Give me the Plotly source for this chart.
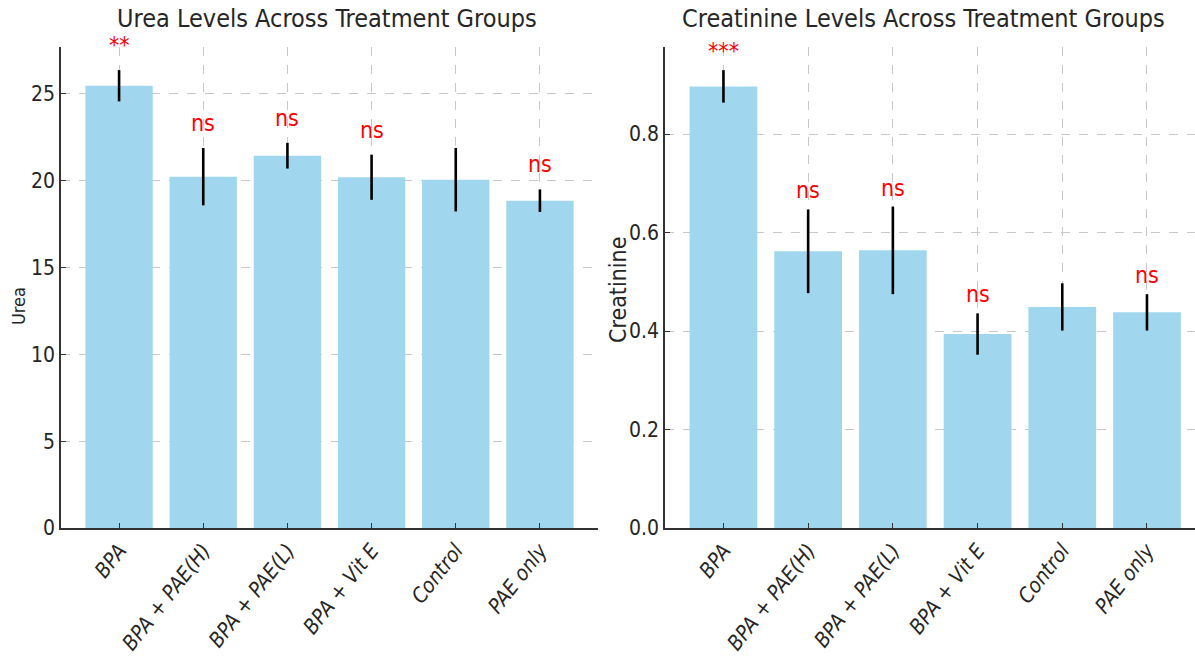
import plotly.graph_objects as go

# Treatment groups shared by both panels
groups = ["BPA", "BPA + PAE(H)", "BPA + PAE(L)", "BPA + Vit E", "Control", "PAE only"]

# Urea: group means, error half-widths and significance labels vs Control
urea_mean = [25.47, 20.23, 21.44, 20.20, 20.06, 18.85]
urea_err = [0.90, 1.65, 0.74, 1.30, 1.83, 0.65]
urea_sig = ["**", "ns", "ns", "ns", "", "ns"]

# Creatinine: group means, error half-widths and significance labels vs Control
creat_mean = [0.897, 0.562, 0.564, 0.394, 0.449, 0.438]
creat_err = [0.033, 0.085, 0.089, 0.042, 0.048, 0.037]
creat_sig = ["***", "ns", "ns", "ns", "", "ns"]

W, H = 1195, 657
FONT = "DejaVu Sans Condensed, Liberation Sans Narrow, DejaVu Sans, sans-serif"
TEXT = "#262626"
AXIS = "#333333"
BAR = "#a0d7ee"
GRID = "#c8c8c8"

def px_x(p):
    return p / W

def px_y(p):
    return 1 - p / H

fig = go.Figure()

fig.add_trace(go.Bar(
    x=groups, y=urea_mean, marker=dict(color=BAR, line=dict(width=0)),
    error_y=dict(type="data", array=urea_err, color="black", thickness=2.6, width=0),
    xaxis="x", yaxis="y", showlegend=False,
))
fig.add_trace(go.Bar(
    x=groups, y=creat_mean, marker=dict(color=BAR, line=dict(width=0)),
    error_y=dict(type="data", array=creat_err, color="black", thickness=2.6, width=0),
    xaxis="x2", yaxis="y2", showlegend=False,
))

xcommon = dict(
    type="category", showline=True, linecolor=AXIS, linewidth=1.6,
    ticks="inside", ticklen=5, tickcolor=AXIS, tickwidth=1.3,
    showgrid=True, gridcolor=GRID, griddash="dash", gridwidth=1,
    tickangle=-52, tickfont=dict(family=FONT, size=21, color=TEXT, style="italic"),
    zeroline=False, mirror=False, automargin=False,
)
ycommon = dict(
    showline=True, linecolor=AXIS, linewidth=1.6,
    ticks="inside", ticklen=5, tickcolor=AXIS, tickwidth=1.3,
    showgrid=True, gridcolor=GRID, griddash="dash", gridwidth=1,
    tickfont=dict(family=FONT, size=21, color=TEXT),
    zeroline=False, mirror=False, automargin=False,
)

fig.update_layout(
    width=W, height=H,
    margin=dict(l=0, r=0, t=0, b=0),
    paper_bgcolor="white", plot_bgcolor="white",
    bargap=0.2,
    xaxis=dict(xcommon, domain=[px_x(61), px_x(598)], range=[-0.69, 5.69], anchor="y"),
    yaxis=dict(ycommon, domain=[px_y(528), px_y(47)], range=[0, 27.7],
               tickvals=[0, 5, 10, 15, 20, 25], anchor="x"),
    xaxis2=dict(xcommon, domain=[px_x(665), 1.0], range=[-0.69, 5.567], anchor="y2"),
    yaxis2=dict(ycommon, domain=[px_y(528), px_y(47)], range=[0, 0.977],
                tickvals=[0.0, 0.2, 0.4, 0.6, 0.8], tickformat=".1f", anchor="x2"),
)

annotations = []
for g, m, e, s in zip(groups, urea_mean, urea_err, urea_sig):
    if s:
        annotations.append(dict(x=g, y=m + e, xref="x", yref="y", text=s, showarrow=False,
                                yanchor="bottom", yshift=10,
                                font=dict(family=FONT, size=23, color="red")))
for g, m, e, s in zip(groups, creat_mean, creat_err, creat_sig):
    if s:
        annotations.append(dict(x=g, y=m + e, xref="x2", yref="y2", text=s, showarrow=False,
                                yanchor="bottom", yshift=4,
                                font=dict(family=FONT, size=23, color="red")))

# Panel titles
annotations.append(dict(x=px_x(327), y=px_y(19), xref="paper", yref="paper",
                        text="Urea Levels Across Treatment Groups", showarrow=False,
                        xanchor="center", yanchor="middle",
                        font=dict(family=FONT, size=25, color=TEXT)))
annotations.append(dict(x=px_x(923), y=px_y(19), xref="paper", yref="paper",
                        text="Creatinine Levels Across Treatment Groups", showarrow=False,
                        xanchor="center", yanchor="middle",
                        font=dict(family=FONT, size=25, color=TEXT)))

# Y-axis titles
annotations.append(dict(x=px_x(18), y=px_y(306), xref="paper", yref="paper",
                        text="Urea", showarrow=False, textangle=-90,
                        xanchor="center", yanchor="middle",
                        font=dict(family=FONT, size=18, color=TEXT)))
annotations.append(dict(x=px_x(618), y=px_y(290), xref="paper", yref="paper",
                        text="Creatinine", showarrow=False, textangle=-90,
                        xanchor="center", yanchor="middle",
                        font=dict(family=FONT, size=23, color=TEXT)))

fig.update_layout(annotations=annotations)

fig.write_html("out.html")
